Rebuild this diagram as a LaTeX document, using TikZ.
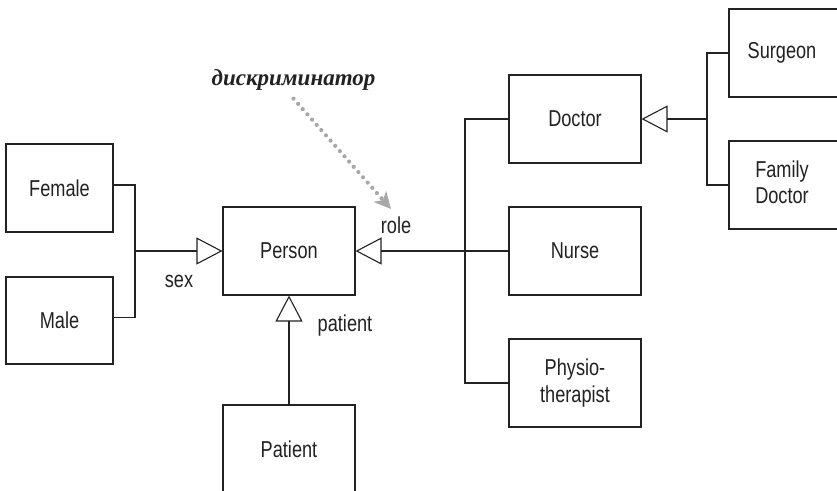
\documentclass[tikz,border=0pt]{standalone}
\usepackage{fontspec}
\setmainfont{Liberation Sans}[FakeStretch=0.79]
\newfontfamily\cyr{Liberation Serif}
\usetikzlibrary{arrows.meta}
\definecolor{ink}{HTML}{222222}
\definecolor{dotgray}{HTML}{A8A8A8}
\tikzset{
  cls/.style={draw=ink, line width=1.1pt, rectangle, minimum width=132pt, minimum height=88pt,
    inner sep=0pt, align=center, font=\fontsize{23}{26.5}\selectfont, text=ink},
  lbl/.style={inner sep=0pt, font=\fontsize{23}{26}\selectfont, text=ink},
  conn/.style={draw=ink, line width=1.1pt},
  gen/.style={conn, -{Triangle[open, length=26pt, width=27pt, line width=1.1pt]}},
  disc/.style={draw=dotgray, line width=4.2pt, dash pattern=on 0pt off 7pt, line cap=round,
    -{Stealth[length=17pt, width=17pt, inset=5pt, line width=0pt, fill=dotgray]}}
}
\begin{document}
\begin{tikzpicture}[x=1pt, y=-1pt]
\path[use as bounding box] (0,0) rectangle (837,490);
\clip (0,0) rectangle (837,490);
\fill[white] (0,0) rectangle (837,490);

% classes
\node[cls, minimum width=107pt] (Female) at (59.5,188) {Female};
\node[cls, minimum width=107pt, minimum height=87pt] (Male) at (59.5,320.5) {Male};
\node[cls] (Person) at (289,251) {Person};
\node[cls] (Patient) at (289,449) {Patient};
\node[cls] (Doctor) at (575,119) {Doctor};
\node[cls] (Nurse) at (575,251) {Nurse};
\node[cls] (Physio) at (575,383) {Physio-\\therapist};
\node[cls] (Surgeon) at (795,53) {\hspace*{-26pt}Surgeon};
\node[cls] (FamilyDoctor) at (795,185) {\hspace*{-26pt}\makebox[0pt]{\begin{tabular}{@{}c@{}}Family\\Doctor\end{tabular}}};

% junctions
\coordinate (sj) at (135,251);
\coordinate (rj) at (465,251);
\coordinate (dj) at (707,119);

% sex hierarchy
\draw[conn] ([yshift=3pt]Female.east) -| (sj);
\draw[conn] ([yshift=3pt]Male.east) -| (sj);
\draw[gen] (sj) -- (Person.west);

% patient
\draw[gen] (Patient.north) -- (Person.south);

% role hierarchy
\draw[conn] (Doctor.west) -| (rj) |- (Physio.west);
\draw[conn] (Nurse.west) -- (rj);
\draw[gen] (rj) -- (Person.east);

% doctor hierarchy
\draw[conn] (Surgeon.west) -| (dj) |- (FamilyDoctor.west);
\draw[gen] (dj) -- (Doctor.east);

% labels
\node[lbl] (sexl) at (179,281) {sex};
\node[lbl] (patl) at (345,326) {patient};
\node[lbl] (rolel) at (396,225) {role};

% discriminator
\node[inner sep=0pt, font=\cyr\bfseries\itshape\fontsize{23}{26}\selectfont, text=ink] (discl) at (293.5,80) {дискриминатор};
\coordinate (disctip) at (391,209);
\draw[disc] ([yshift=-8pt]discl.south) -- (disctip);
\end{tikzpicture}
\end{document}
